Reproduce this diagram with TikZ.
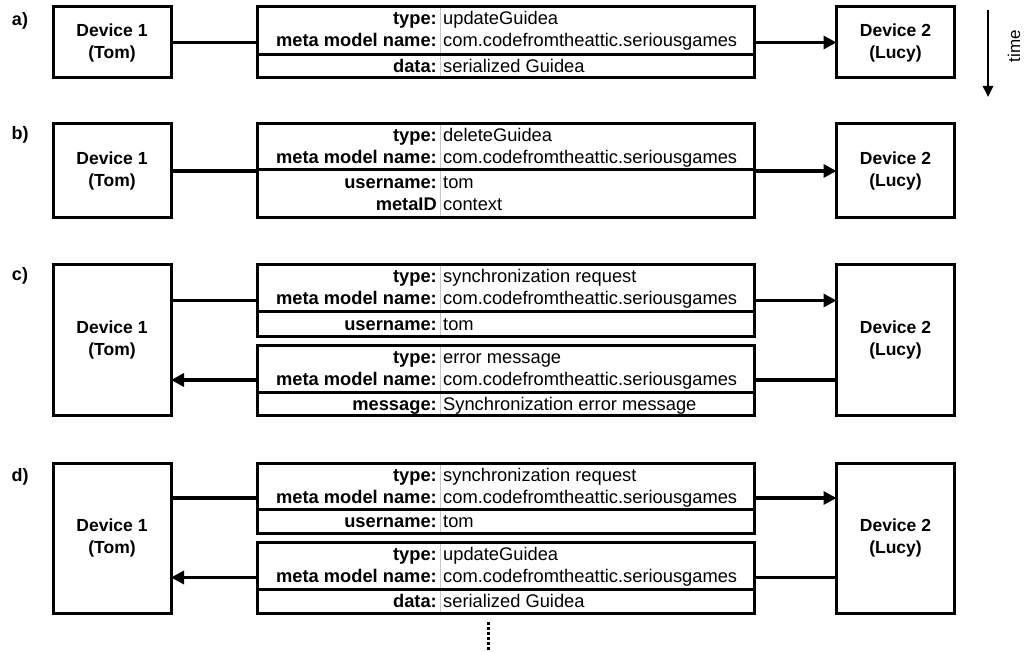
\documentclass[tikz,border=0pt]{standalone}
\usepackage{fontspec}
\setmainfont{Liberation Sans}
\usetikzlibrary{arrows.meta}

% message frame: name, top, divider, bottom
\newcommand\msgbox[4]{%
  \draw[sep] (440,#2) -- (440,#4);
  \node[msgframe, minimum height={#4-#2}, anchor=north west] (#1) at (257,#2) {};
  \draw[rule] (#1.west |- 0,#3) -- (#1.east |- 0,#3);
}
% one key/value line: name, baseline, key, value
\newcommand\field[4]{%
  \node[keytext] (#1k) at (437,#2) {#3};
  \node[valtext] (#1v) at (443,#2) {#4};
}

\begin{document}
\begin{tikzpicture}[x=1pt,y=-1pt,
  frame/.style={draw=black, line width=3pt, inner sep=0pt, outer sep=0pt},
  device/.style={frame, minimum width=118pt, align=center,
    font=\fontsize{17.5}{22}\selectfont\bfseries},
  msgframe/.style={frame, minimum width=497pt},
  rule/.style={line width=3pt},
  sep/.style={line width=1pt, draw=black!22},
  keytext/.style={anchor=base east, inner sep=0pt,
    font=\fontsize{18.3}{22}\selectfont\bfseries},
  valtext/.style={anchor=base west, inner sep=0pt,
    font=\fontsize{18.3}{22}\selectfont},
  tag/.style={anchor=base, inner sep=0pt, font=\fontsize{18}{22}\selectfont\bfseries},
  conn/.style={line width=3.5pt},
  sendarrow/.style={conn, -{Triangle[length=13pt,width=13pt]}},
  timearrow/.style={line width=2.5pt, -{Triangle[length=11pt,width=10pt]}},
  dotline/.style={line width=3pt, dash pattern=on 3pt off 2pt}
]
\useasboundingbox (0,0) rectangle (1025,652);

% ---------------- a) ----------------
\node[tag] (la) at (20,26) {a)};
\node[device, minimum height=71pt] (d1a) at (112,42.5) {Device 1\\(Tom)};
\node[device, minimum height=71pt] (d2a) at (895.5,42.5) {Device 2\\(Lucy)};
\msgbox{ma}{7}{55}{78}
\field{ma1}{25}{type:}{updateGuidea}
\field{ma2}{47}{meta model name:}{com.codefromtheattic.seriousgames}
\field{ma3}{72.5}{data:}{serialized Guidea}
\draw[conn] (d1a.east) -- (ma.west);
\draw[sendarrow] (ma.east) -- (d2a.west);

% time axis
\coordinate (t0) at (988,10);
\coordinate (t1) at (988,97);
\draw[timearrow] (t0) -- (t1);
\node[rotate=90, inner sep=0pt, font=\fontsize{17}{20}\selectfont] (tl) at (1014,46) {time};

% ---------------- b) ----------------
\node[tag] (lb) at (20,140) {b)};
\node[device, minimum height=94pt] (d1b) at (112,171) {Device 1\\(Tom)};
\node[device, minimum height=94pt] (d2b) at (895.5,171) {Device 2\\(Lucy)};
\msgbox{mb}{124}{170}{218}
\field{mb1}{142}{type:}{deleteGuidea}
\field{mb2}{164}{meta model name:}{com.codefromtheattic.seriousgames}
\field{mb3}{189}{username:}{tom}
\field{mb4}{211}{metaID}{context}
\draw[conn] (d1b.east) -- (mb.west);
\draw[sendarrow] (mb.east) -- (d2b.west);

% ---------------- c) ----------------
\node[tag] (lc) at (20,281) {c)};
\node[device, minimum height=150pt] (d1c) at (112,340) {Device 1\\(Tom)};
\node[device, minimum height=150pt] (d2c) at (895.5,340) {Device 2\\(Lucy)};
\msgbox{mc}{265}{311}{336}
\field{mc1}{283}{type:}{synchronization request}
\field{mc2}{305}{meta model name:}{com.codefromtheattic.seriousgames}
\field{mc3}{330}{username:}{tom}
\msgbox{nc}{345}{392}{415}
\field{nc1}{363}{type:}{error message}
\field{nc2}{385.5}{meta model name:}{com.codefromtheattic.seriousgames}
\field{nc3}{410}{message:}{Synchronization error message}
\draw[conn] (d1c.east |- mc.west) -- (mc.west);
\draw[sendarrow] (mc.east) -- (d2c.west |- mc.east);
\draw[conn] (d2c.west |- nc.east) -- (nc.east);
\draw[sendarrow] (nc.west) -- (d1c.east |- nc.west);

% ---------------- d) ----------------
\node[tag] (ld) at (20,481) {d)};
\node[device, minimum height=150pt] (d1d) at (112,538) {Device 1\\(Tom)};
\node[device, minimum height=150pt] (d2d) at (895.5,538) {Device 2\\(Lucy)};
\msgbox{md}{463}{509}{533}
\field{md1}{481}{type:}{synchronization request}
\field{md2}{503}{meta model name:}{com.codefromtheattic.seriousgames}
\field{md3}{527.5}{username:}{tom}
\msgbox{nd}{542}{589}{613}
\field{nd1}{560}{type:}{updateGuidea}
\field{nd2}{582.5}{meta model name:}{com.codefromtheattic.seriousgames}
\field{nd3}{607}{data:}{serialized Guidea}
\draw[conn] (d1d.east |- md.west) -- (md.west);
\draw[sendarrow] (md.east) -- (d2d.west |- md.east);
\draw[conn] (d2d.west |- nd.east) -- (nd.east);
\draw[sendarrow] (nd.west) -- (d1d.east |- nd.west);

% continuation
\coordinate (dots0) at (488,622);
\coordinate (dots1) at (488,652);
\draw[dotline] (dots0) -- (dots1);
\end{tikzpicture}
\end{document}
